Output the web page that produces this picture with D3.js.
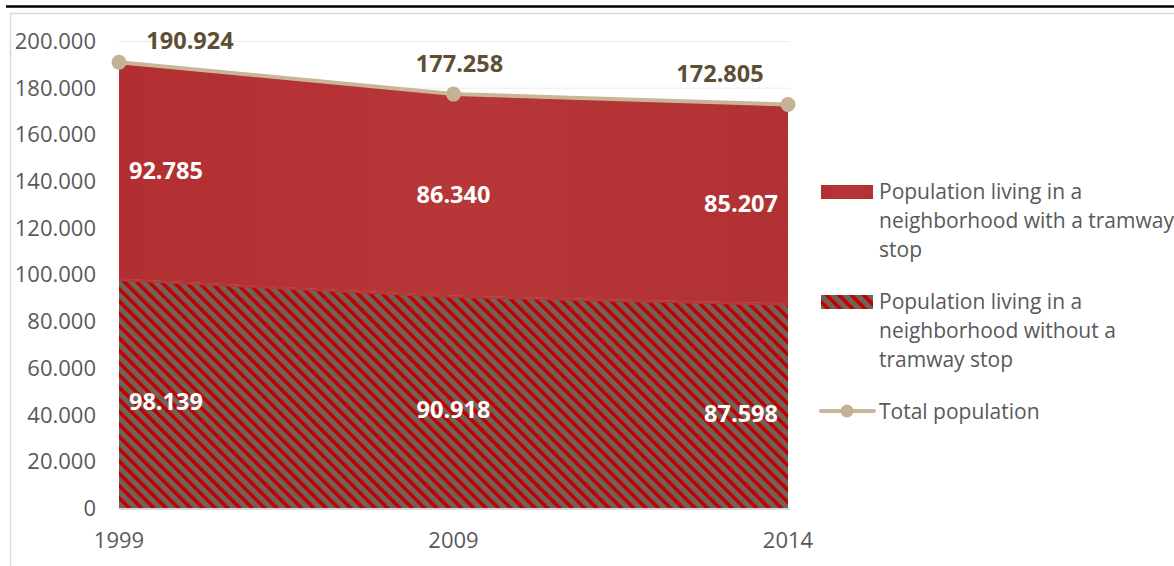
<!DOCTYPE html>
<html>
<head>
<meta charset="utf-8">
<script src="https://cdn.jsdelivr.net/npm/d3@7"></script>
<style>
  body { margin: 0; background: #fff; }
  svg { display: block; font-family: "Open Sans", sans-serif; }
</style>
</head>
<body>
<script>
var years = ['1999', '2009', '2014'];
var withStop = [92785, 86340, 85207];
var withoutStop = [98139, 90918, 87598];
var totals = [190924, 177258, 172805];
var yTicks = [0, 20000, 40000, 60000, 80000, 100000, 120000, 140000, 160000, 180000, 200000];
var legendNames = [
  ['Population living in a', 'neighborhood with a tramway', 'stop'],
  ['Population living in a', 'neighborhood without a', 'tramway stop'],
  ['Total population']
];

var width = 1174;
var height = 566;

var svg = d3.select('body')
  .append('svg')
  .attr('width', width)
  .attr('height', height);

// stripes for the lower area
var defs = svg.append('defs');
var pat = defs.append('pattern')
  .attr('id', 'stripes')
  .attr('patternUnits', 'userSpaceOnUse')
  .attr('width', 8.7)
  .attr('height', 8.7)
  .attr('patternTransform', 'rotate(-45)');
pat.append('rect').attr('width', 8.7).attr('height', 8.7).attr('fill', '#726257');
pat.append('rect').attr('width', 3.6).attr('height', 8.7).attr('fill', '#c00000');

var grad = defs.append('linearGradient')
  .attr('id', 'redfill')
  .attr('x1', 0).attr('x2', 1).attr('y1', 0).attr('y2', 0);
grad.append('stop').attr('offset', '0%').attr('stop-color', '#b22f31');
grad.append('stop').attr('offset', '50%').attr('stop-color', '#b73638');
grad.append('stop').attr('offset', '100%').attr('stop-color', '#b23234');

// frame
svg.append('line').attr('x1', 6).attr('x2', width).attr('y1', 6.5).attr('y2', 6.5)
  .attr('stroke', '#000').attr('stroke-width', 2.5);
svg.append('line').attr('x1', 10).attr('x2', width).attr('y1', 13.5).attr('y2', 13.5)
  .attr('stroke', '#d9d9d9').attr('stroke-width', 1.5);
svg.append('line').attr('x1', 10.5).attr('x2', 10.5).attr('y1', 13).attr('y2', height)
  .attr('stroke', '#d9d9d9').attr('stroke-width', 1.5);

var x = d3.scalePoint().domain(years).range([119, 788]);
var y = d3.scaleLinear().domain([0, 200000]).range([508, 41]);

// gridlines
svg.append('g').selectAll('line')
  .data(yTicks.slice(1))
  .enter()
  .append('line')
  .attr('x1', 119).attr('x2', 790)
  .attr('y1', d => y(d) + 0.5).attr('y2', d => y(d) + 0.5)
  .attr('stroke', '#ececec');

var rows = years.map((yr, i) => ({ year: yr, lo: withoutStop[i], hi: withoutStop[i] + withStop[i], total: totals[i] }));

var areaLow = d3.area().x(d => x(d.year)).y0(y(0)).y1(d => y(d.lo));
var areaHigh = d3.area().x(d => x(d.year)).y0(d => y(d.lo)).y1(d => y(d.hi));

svg.append('path').datum(rows).attr('d', areaHigh).attr('fill', 'url(#redfill)');
svg.append('path').datum(rows)
  .attr('d', d3.line().x(d => x(d.year)).y(d => y(d.hi) + 1))
  .attr('fill', 'none').attr('stroke', '#a82225').attr('stroke-width', 2);
svg.append('path').datum(rows).attr('d', areaLow).attr('fill', 'url(#stripes)');
svg.append('path').datum(rows)
  .attr('d', d3.line().x(d => x(d.year)).y(d => y(d.lo) + 1))
  .attr('fill', 'none').attr('stroke', '#b5393b').attr('stroke-width', 2.5);

// baseline
svg.append('line').attr('x1', 119).attr('x2', 790).attr('y1', 509).attr('y2', 509)
  .attr('stroke', '#d9d9d9').attr('stroke-width', 2);

// total line
svg.append('path').datum(rows)
  .attr('d', d3.line().x(d => x(d.year)).y(d => y(d.total)))
  .attr('fill', 'none').attr('stroke', '#c9b699').attr('stroke-width', 4);
svg.append('g').selectAll('circle')
  .data(rows)
  .enter()
  .append('circle')
  .attr('cx', d => x(d.year)).attr('cy', d => y(d.total))
  .attr('r', 7.5).attr('fill', '#c4b294');

var fmt = v => d3.format(',')(v).replace(/,/g, '.');

// y axis labels
svg.append('g').selectAll('text')
  .data(yTicks)
  .enter()
  .append('text')
  .attr('x', 96).attr('y', d => y(d))
  .attr('dy', '0.36em')
  .attr('text-anchor', 'end')
  .attr('font-size', 22)
  .attr('fill', '#595959')
  .text(d => d === 0 ? '0' : fmt(d));

// x axis labels
svg.append('g').selectAll('text')
  .data(years)
  .enter()
  .append('text')
  .attr('x', d => x(d)).attr('y', 540)
  .attr('dy', '0.36em')
  .attr('text-anchor', 'middle')
  .attr('font-size', 22)
  .attr('fill', '#595959')
  .text(d => d);

// label placement per column: left, middle, right
var anchors = ['start', 'middle', 'end'];
var dxs = [10, 0, -10];

svg.append('g').selectAll('text')
  .data(rows)
  .enter()
  .append('text')
  .attr('x', (d, i) => x(d.year) + dxs[i])
  .attr('y', d => y((d.lo + d.hi) / 2))
  .attr('dy', '0.36em')
  .attr('text-anchor', (d, i) => anchors[i])
  .attr('font-size', 23.5).attr('font-weight', 'bold').attr('fill', '#fff')
  .text((d, i) => fmt(withStop[i]));

svg.append('g').selectAll('text')
  .data(rows)
  .enter()
  .append('text')
  .attr('x', (d, i) => x(d.year) + dxs[i])
  .attr('y', d => y(d.lo / 2) + 8)
  .attr('dy', '0.36em')
  .attr('text-anchor', (d, i) => anchors[i])
  .attr('font-size', 23.5).attr('font-weight', 'bold').attr('fill', '#fff')
  .text(d => fmt(d.lo));

var totDx = [71, 6, -68];
var totDy = [-22, -31, -31];
svg.append('g').selectAll('text')
  .data(rows)
  .enter()
  .append('text')
  .attr('x', (d, i) => x(d.year) + totDx[i])
  .attr('y', (d, i) => y(d.total) + totDy[i])
  .attr('dy', '0.36em')
  .attr('text-anchor', 'middle')
  .attr('font-size', 23.5).attr('font-weight', 'bold').attr('fill', '#5e4e35')
  .text(d => fmt(d.total));

// legend
var legY = [191, 301, 411];
var leg = svg.append('g');
leg.append('rect').attr('x', 821).attr('y', 185).attr('width', 52).attr('height', 14).attr('fill', 'url(#redfill)');
leg.append('rect').attr('x', 821).attr('y', 295).attr('width', 52).attr('height', 14).attr('fill', 'url(#stripes)');
leg.append('line').attr('x1', 821).attr('x2', 874).attr('y1', 411).attr('y2', 411)
  .attr('stroke', '#c9b699').attr('stroke-width', 4).attr('stroke-linecap', 'round');
leg.append('circle').attr('cx', 847).attr('cy', 411).attr('r', 6.5).attr('fill', '#c4b294');

legendNames.forEach((lines, k) => {
  leg.append('g').selectAll('text')
    .data(lines)
    .enter()
    .append('text')
    .attr('x', 879)
    .attr('y', (d, j) => legY[k] + j * 29)
    .attr('dy', '0.36em')
    .attr('font-size', 21)
    .attr('fill', '#595959')
    .text(d => d);
});
</script>
</body>
</html>
